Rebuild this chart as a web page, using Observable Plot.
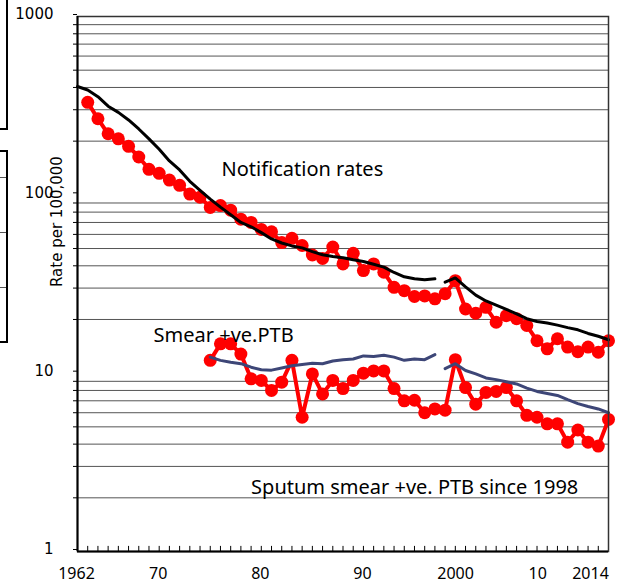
<!DOCTYPE html>
<html>
<head>
<meta charset="utf-8">
<script src="https://cdn.jsdelivr.net/npm/d3@7"></script>
<script src="https://cdn.jsdelivr.net/npm/@observablehq/plot@0.6"></script>
<style>
  body { margin: 0; background: #fff; }
  #wrap { position: relative; width: 620px; height: 583px; overflow: hidden; }
  .box { position: absolute; border: 2px solid #000; box-sizing: border-box; }
  .inner { position: absolute; left: 0; width: 100%; border-top: 1px solid #555; }
</style>
</head>
<body>
<div id="wrap">
  <div class="box" style="left:-4px; top:-4px; width:12px; height:134px;"></div>
  <div class="box" style="left:-4px; top:150px; width:12px; height:193px;">
    <div class="inner" style="top:25px"></div>
    <div class="inner" style="top:80px"></div>
    <div class="inner" style="top:135px"></div>
  </div>
</div>
<script>
// ---- Data ----
// National notification rate trend (black line), per 100,000
const trendYears = [1962,1963,1964,1965,1966,1967,1968,1969,1970,1971,1972,1973,1974,1975,1976,1977,1978,1979,1980,1981,1982,1983,1984,1985,1986,1987,1988,1989,1990,1991,1992,1993,1994,1995,1996,1997,1998,1999,2000,2001,2002,2003,2004,2005,2006,2007,2008,2009,2010,2011,2012,2013,2014];
const trendRates = [405,387,355,314,290,263,234,206,180,155,138,119,106,94.7,85.3,77.3,70.0,66.2,61.4,56.6,53.7,51.7,50.4,48.0,46.1,45.1,44.4,43.2,42.3,40.8,39.3,36.7,34.7,33.8,33.4,33.8,32.4,34.2,30.5,27.4,25.4,24.1,22.8,21.5,20.2,19.5,19.1,18.6,18.0,17.5,16.7,16.1,15.4];

// Notification rates (red dots)
const notifYears = [1963,1964,1965,1966,1967,1968,1969,1970,1971,1972,1973,1974,1975,1976,1977,1978,1979,1980,1981,1982,1983,1984,1985,1986,1987,1988,1989,1990,1991,1992,1993,1994,1995,1996,1997,1998,1999,2000,2001,2002,2003,2004,2005,2006,2007,2008,2009,2010,2011,2012,2013,2014];
const notifRates = [330,267,220,206,187,163,139,132,121,113,101,97,85,87,82,73,70,64,62,54,57,52,46,44,51,41,47,37.6,41,36.8,30.3,29,26.9,27.1,26.1,27.9,33,22.9,21.7,23.4,19.3,21.0,20.2,18.5,15.2,13.7,15.6,14.0,13.2,14.0,13.1,15.2];

// Smear-positive PTB rates (red dots, lower series)
const smearYears = [1975,1976,1977,1978,1979,1980,1981,1982,1983,1984,1985,1986,1987,1988,1989,1990,1991,1992,1993,1994,1995,1996,1997,1998,1999,2000,2001,2002,2003,2004,2005,2006,2007,2008,2009,2010,2011,2012,2013,2014];
const smearRates = [11.8,14.6,14.6,12.8,9.3,9.1,8.0,8.9,11.8,5.66,9.9,7.65,9.1,8.2,9.1,10.0,10.3,10.3,8.2,7.0,7.05,6.0,6.3,6.2,11.9,8.3,6.7,7.8,7.9,8.3,7.0,5.8,5.66,5.2,5.2,4.1,4.8,4.1,3.9,5.5];

// National smear-positive trend (dark blue line)
const smearTrendYears = [1975,1976,1977,1978,1979,1980,1981,1982,1983,1984,1985,1986,1987,1988,1989,1990,1991,1992,1993,1994,1995,1996,1997,1998,1999,2000,2001,2002,2003,2004,2005,2006,2007,2008,2009,2010,2011,2012,2013,2014];
const smearTrendRates = [12.3,11.8,11.5,11.3,10.8,10.45,10.4,10.7,11.0,11.2,11.35,11.3,11.7,11.9,12.0,12.5,12.4,12.6,12.3,11.8,12.0,11.9,12.7,10.6,11.3,10.35,9.9,9.4,9.2,8.95,8.7,8.25,7.9,7.7,7.5,7.1,6.75,6.5,6.3,6.0];

const breakYear = 1998; // definition change: trend lines restart here

// Axis ticks and labels
const xTickYears = [1962, 1970, 1980, 1990, 2000, 2010, 2014];
const xTickLabels = ["1962", "70", "80", "90", "2000", "10", "2014"];
const yLabelTicks = [1, 10, 100, 1000];
const yTickLabels = ["1", "10", "100", "1000"];
const annotations = ["Notification rates", "Smear +ve.PTB", "Sputum smear +ve. PTB since 1998"];
const yTitle = "Rate per 100,000";

// ---- Build tables ----
const trend = trendYears.map((year, i) => ({year, rate: trendRates[i], period: year < breakYear ? "old" : "new"}));
const notif = notifYears.map((year, i) => ({year, rate: notifRates[i]}));
const smear = smearYears.map((year, i) => ({year, rate: smearRates[i]}));
const smearTrend = smearTrendYears.map((year, i) => ({year, rate: smearTrendRates[i], period: year < breakYear ? "old" : "new"}));
const gridValues = [1, 10, 100].flatMap(d => d3.range(2, 10).map(k => k * d));
const minorTickYears = d3.range(trendYears[0] + 1, trendYears[trendYears.length - 1]);
const xLabelOf = new Map(xTickYears.map((y, i) => [y, xTickLabels[i]]));
const yLabelOf = new Map(yLabelTicks.map((y, i) => [y, yTickLabels[i]]));

const red = "#ff0000";
const navy = "#3d4677";
const xAxisStyle = {tickSize: 0, tickPadding: 16, tickFormat: d => xLabelOf.get(d), fontSize: 16, label: null};

const chart = Plot.plot({
  width: 620,
  height: 583,
  marginTop: 16,
  marginBottom: 32,
  marginLeft: 77,
  marginRight: 12,
  x: {domain: [trendYears[0], trendYears[trendYears.length - 1]], axis: null},
  y: {type: "log", domain: [1, 1000], axis: null},
  style: {fontFamily: "Noto Sans", background: "#fff", color: "#000"},
  marks: [
    Plot.ruleY(gridValues, {stroke: "#555", strokeWidth: 1}),
    // smear series
    Plot.line(smear, {x: "year", y: "rate", stroke: red, strokeWidth: 4}),
    Plot.dot(smear, {x: "year", y: "rate", r: 6.5, fill: red}),
    Plot.line(smearTrend, {x: "year", y: "rate", z: "period", stroke: navy, strokeWidth: 3}),
    // notification series
    Plot.line(notif, {x: "year", y: "rate", stroke: red, strokeWidth: 4}),
    Plot.dot(notif, {x: "year", y: "rate", r: 6.5, fill: red}),
    Plot.line(trend, {x: "year", y: "rate", z: "period", stroke: "#000", strokeWidth: 3}),
    // frame and axes
    Plot.frame({stroke: "#333", strokeWidth: 1.5}),
    Plot.ruleX([trendYears[0]], {stroke: "#000", strokeWidth: 2}),
    Plot.ruleY([1], {stroke: "#000", strokeWidth: 2}),
    Plot.ruleX(minorTickYears, {x: d => d, y1: 1, y2: 1.068, stroke: "#000", strokeWidth: 1}),
    Plot.axisY(gridValues, {tickSize: 4, tickFormat: () => "", label: null}),
    Plot.axisY(yLabelTicks, {tickSize: 4, tickPadding: 20, tickFormat: d => yLabelOf.get(d), fontFamily: "DejaVu Sans", fontSize: 15, label: null, dy: -2}),
    Plot.axisX(xTickYears.slice(0, 4), {...xAxisStyle, dx: -1}),
    Plot.axisX([xTickYears[4]], {...xAxisStyle, dx: -10}),
    Plot.axisX([xTickYears[5]], {...xAxisStyle, dx: -30}),
    Plot.axisX([xTickYears[6]], {...xAxisStyle, dx: -18}),
    Plot.text([yTitle], {frameAnchor: "left", rotate: -90, dx: -20, dy: 3, fontSize: 15, fontFamily: "DejaVu Sans", fill: "#000"}),
    // annotations
    Plot.text([annotations[0]], {x: 1976.1, y: 138.6, text: d => d, textAnchor: "start", fontSize: 20, fill: "#000"}),
    Plot.text([annotations[1]], {x: 1969.45, y: 16.3, text: d => d, textAnchor: "start", fontSize: 20, fill: "#000"}),
    Plot.text([annotations[2]], {x: 1979.0, y: 2.29, text: d => d, textAnchor: "start", fontSize: 20, fill: "#000"})
  ]
});
chart.style.position = "absolute";
chart.style.left = "0";
chart.style.top = "0";
document.getElementById("wrap").prepend(chart);
</script>
</body>
</html>
